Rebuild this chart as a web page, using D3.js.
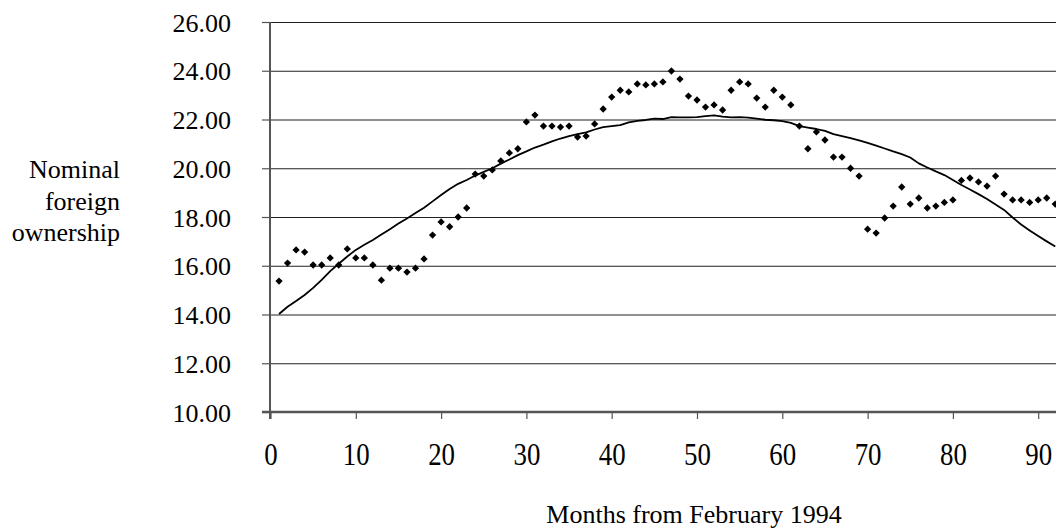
<!DOCTYPE html>
<html>
<head>
<meta charset="utf-8">
<script src="https://cdn.jsdelivr.net/npm/d3@7"></script>
<style>
  body { margin: 0; background: #fff; }
  svg text { font-family: "Liberation Serif", "Times New Roman", serif; fill: #000; }
</style>
</head>
<body>
<div id="wrapper"></div>
<script>
// monthly observations (diamonds), months 1..92
const months = d3.range(1, 93);
const observed = [
  15.37, 16.11, 16.65, 16.56, 16.03, 16.03, 16.32, 16.03, 16.69, 16.32,
  16.32, 16.03, 15.41, 15.90, 15.90, 15.74, 15.90, 16.28, 17.26, 17.80,
  17.60, 18.00, 18.37, 19.76, 19.68, 19.93, 20.30, 20.63, 20.80, 21.90,
  22.18, 21.73, 21.73, 21.69, 21.73, 21.28, 21.32, 21.82, 22.43, 22.92,
  23.20, 23.13, 23.46, 23.42, 23.46, 23.54, 23.99, 23.66, 22.96, 22.80,
  22.51, 22.60, 22.39, 23.20, 23.54, 23.46, 22.88, 22.51, 23.20, 22.92,
  22.60, 21.73, 20.80, 21.49, 21.16, 20.46, 20.46, 20.00, 19.68, 17.50,
  17.34, 17.96, 18.45, 19.23, 18.53, 18.78, 18.37, 18.45, 18.60, 18.70,
  19.50, 19.60, 19.44, 19.27, 19.68, 18.94, 18.70, 18.70, 18.60, 18.70,
  18.78, 18.53
];
// smoothed trend (solid line), months 1..92
const trend = [
  14.02, 14.32, 14.55, 14.80, 15.09, 15.42, 15.78, 16.08, 16.38, 16.65,
  16.86, 17.06, 17.28, 17.50, 17.73, 17.94, 18.16, 18.38, 18.64, 18.90,
  19.15, 19.36, 19.52, 19.70, 19.85, 20.00, 20.19, 20.36, 20.54, 20.69,
  20.85, 20.97, 21.10, 21.22, 21.32, 21.40, 21.47, 21.59, 21.69, 21.73,
  21.77, 21.88, 21.94, 21.98, 22.04, 22.02, 22.10, 22.09, 22.09, 22.10,
  22.14, 22.17, 22.12, 22.09, 22.10, 22.08, 22.04, 21.99, 21.97, 21.93,
  21.86, 21.73, 21.67, 21.61, 21.53, 21.40, 21.32, 21.24, 21.14, 21.04,
  20.93, 20.81, 20.69, 20.58, 20.44, 20.20, 20.03, 19.87, 19.72, 19.52,
  19.31, 19.13, 18.94, 18.74, 18.51, 18.29, 17.98, 17.69, 17.45, 17.22,
  17.00, 16.79
];
const xTicks = [0, 10, 20, 30, 40, 50, 60, 70, 80, 90];
const yTicks = [10, 12, 14, 16, 18, 20, 22, 24, 26];
const yTitleLines = ["Nominal", "foreign", "ownership"];
const xTitle = "Months from February 1994";

const width = 1056;
const height = 530;
const margin = { top: 22, left: 270, bottom: 118 };
const plotBottom = height - margin.bottom;

const svg = d3.select("#wrapper")
  .append("svg")
  .attr("width", width)
  .attr("height", height);

const xScale = d3.scaleLinear()
  .domain([0, 100])
  .range([margin.left + 0.5, margin.left + 0.5 + 853]);

const yScale = d3.scaleLinear()
  .domain([10, 26])
  .range([plotBottom, margin.top]);

// horizontal gridlines
svg.append("g")
  .attr("transform", `translate(${margin.left},0)`)
  .call(d3.axisRight(yScale).tickValues(yTicks).tickSize(width - margin.left).tickFormat(""))
  .call(g => g.select(".domain").remove())
  .call(g => g.selectAll(".tick line").attr("stroke", "#222").attr("stroke-width", 1.2));

// y axis
svg.append("g")
  .attr("transform", `translate(${margin.left},0)`)
  .call(d3.axisLeft(yScale).tickValues(yTicks).tickSize(8).tickPadding(31)
    .tickFormat(d3.format(".2f")))
  .call(g => g.select(".domain").attr("stroke", "#555").attr("stroke-width", 2)
    .attr("d", `M0,${margin.top}V${plotBottom + 7}`))
  .call(g => g.selectAll(".tick line").attr("stroke", "#555").attr("stroke-width", 1.2))
  .call(g => g.selectAll(".tick text").attr("font-size", 26)
    .attr("font-family", "Liberation Serif").attr("dy", "0.35em"));

// x axis (labels are tall and condensed in the original)
svg.append("g")
  .attr("transform", `translate(0,${plotBottom})`)
  .call(d3.axisBottom(xScale).tickValues(xTicks).tickSize(7).tickPadding(0).tickSizeOuter(0))
  .call(g => g.select(".domain").attr("stroke", "#555").attr("stroke-width", 2.5)
    .attr("d", `M${margin.left - 8},0H${width}`))
  .call(g => g.selectAll(".tick line").attr("stroke", "#555").attr("stroke-width", 1.2))
  .call(g => g.selectAll(".tick text").attr("font-size", 32)
    .attr("font-family", "Liberation Serif")
    .attr("y", 0).attr("dy", 0)
    .attr("transform", "translate(0,53) scale(0.84,1)"));

// trend line
const lineGenerator = d3.line()
  .x((d, i) => xScale(months[i]))
  .y(d => yScale(d));

svg.append("path")
  .attr("d", lineGenerator(trend))
  .attr("fill", "none")
  .attr("stroke", "#000")
  .attr("stroke-width", 1.8)
  .attr("stroke-linejoin", "round");

// observed points
const diamond = d3.symbol().type(d3.symbolDiamond2 || d3.symbolDiamond).size(34);
svg.append("g")
  .selectAll("path")
  .data(observed)
  .join("path")
  .attr("d", diamond)
  .attr("transform", (d, i) => `translate(${xScale(months[i])},${yScale(d)})`)
  .attr("fill", "#000");

// axis titles
svg.append("text")
  .attr("text-anchor", "end")
  .attr("font-size", 26)
  .selectAll("tspan")
  .data(yTitleLines)
  .join("tspan")
  .attr("x", 120)
  .attr("y", (d, i) => 178 + i * 31.5)
  .text(d => d);

svg.append("text")
  .attr("x", 694)
  .attr("y", 523)
  .attr("text-anchor", "middle")
  .attr("font-size", 26)
  .text(xTitle);
</script>
</body>
</html>
